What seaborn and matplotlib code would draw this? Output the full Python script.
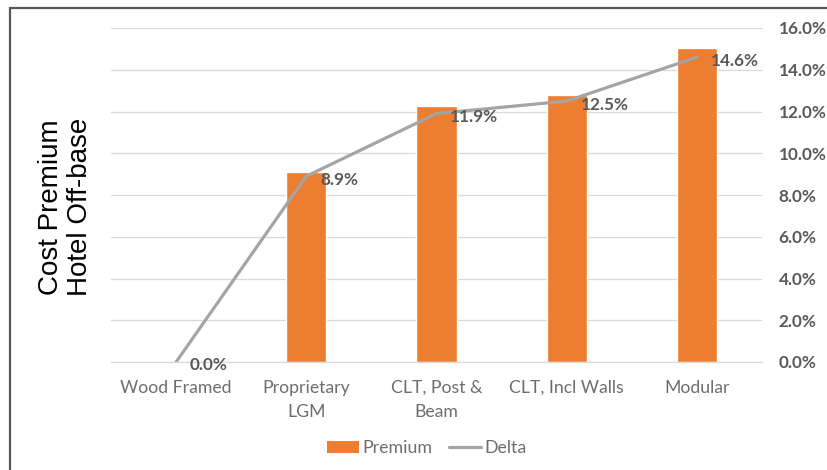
import numpy as np
import pandas as pd
import matplotlib
matplotlib.use("Agg")
import matplotlib.pyplot as plt
import seaborn as sns
from matplotlib.patches import Patch, Rectangle
from matplotlib.lines import Line2D

categories = ["Wood Framed", "Proprietary\nLGM", "CLT, Post &\nBeam", "CLT, Incl Walls", "Modular"]
premium = [0.0, 9.1, 12.25, 12.8, 15.05]
delta = [0.0, 8.9, 11.9, 12.5, 14.6]
delta_labels = ["0.0%", "8.9%", "11.9%", "12.5%", "14.6%"]
yticks = [0, 2, 4, 6, 8, 10, 12, 14, 16]

sns.set_theme(style="white")
plt.rcParams["font.family"] = ["Lato", "DejaVu Sans"]

GRAY = "#595959"
LGRAY = "#6E6E6E"
fig = plt.figure(figsize=(8.28, 4.70), dpi=100)
ax = fig.add_axes([111 / 828, 1 - 362 / 470, (762 - 111) / 828, (362 - 28) / 470])

df = pd.DataFrame({"cat": categories, "premium": premium, "delta": delta})
sns.barplot(data=df, x="cat", y="premium", color="#ED7D31", saturation=1, width=0.31, ax=ax, zorder=2)
sns.lineplot(x=np.arange(len(categories)), y=delta, color="#A5A5A5", linewidth=2.3, ax=ax, zorder=3)

for i, (v, lab) in enumerate(zip(delta, delta_labels)):
    ax.annotate(lab, (i, v), xytext=(10, -2.5), textcoords="offset points",
                ha="left", va="center", fontsize=12.3, fontweight="bold", color=GRAY, zorder=4)

ax.set_ylim(0, 16)
ax.set_xlim(-0.5, len(categories) - 0.5)
ax.set_yticks(yticks)
ax.set_yticklabels([f"{t:.1f}%" for t in yticks])
ax.yaxis.tick_right()
ax.tick_params(axis="y", length=0, pad=12, labelsize=12.3, labelcolor=GRAY)
for tk in ax.yaxis.get_major_ticks():
    tk.label2.set_fontweight("bold")
ax.tick_params(axis="x", length=0, pad=13, labelsize=12.7, labelcolor=LGRAY)
for lbl in ax.get_xticklabels():
    lbl.set_linespacing(1.6)
ax.set_xlabel("")
ax.set_ylabel("")
ax.grid(axis="y", color="#D9D9D9", linewidth=0.9, zorder=0)
ax.set_axisbelow(True)
for s in ["left", "right", "top"]:
    ax.spines[s].set_visible(False)
ax.spines["bottom"].set_color("#D9D9D9")
ax.spines["bottom"].set_linewidth(0.9)

fig.text(66 / 828, 1 - 207 / 470, "Cost Premium\nHotel Off-base", rotation=90, ha="center", va="center",
         fontsize=20, color="black", family=["Liberation Sans", "DejaVu Sans"], linespacing=1.15)

handles = [Patch(facecolor="#ED7D31", edgecolor="none"),
           Line2D([0], [0], color="#A5A5A5", linewidth=2.3)]
leg = fig.legend(handles, ["Premium", "Delta"], loc="center", bbox_to_anchor=(427 / 828, 1 - 448 / 470),
                 ncol=2, frameon=False, fontsize=12.8, handlelength=1.8, handletextpad=0.2,
                 columnspacing=0.9, borderpad=0)
for t in leg.get_texts():
    t.set_color(LGRAY)

fig.patches.append(Rectangle((9.5 / 828, -0.05), 2.0, 1.05 - 8 / 470, transform=fig.transFigure,
                             fill=False, edgecolor="#595959", linewidth=1.6))

fig.savefig("out.png", dpi=100)
